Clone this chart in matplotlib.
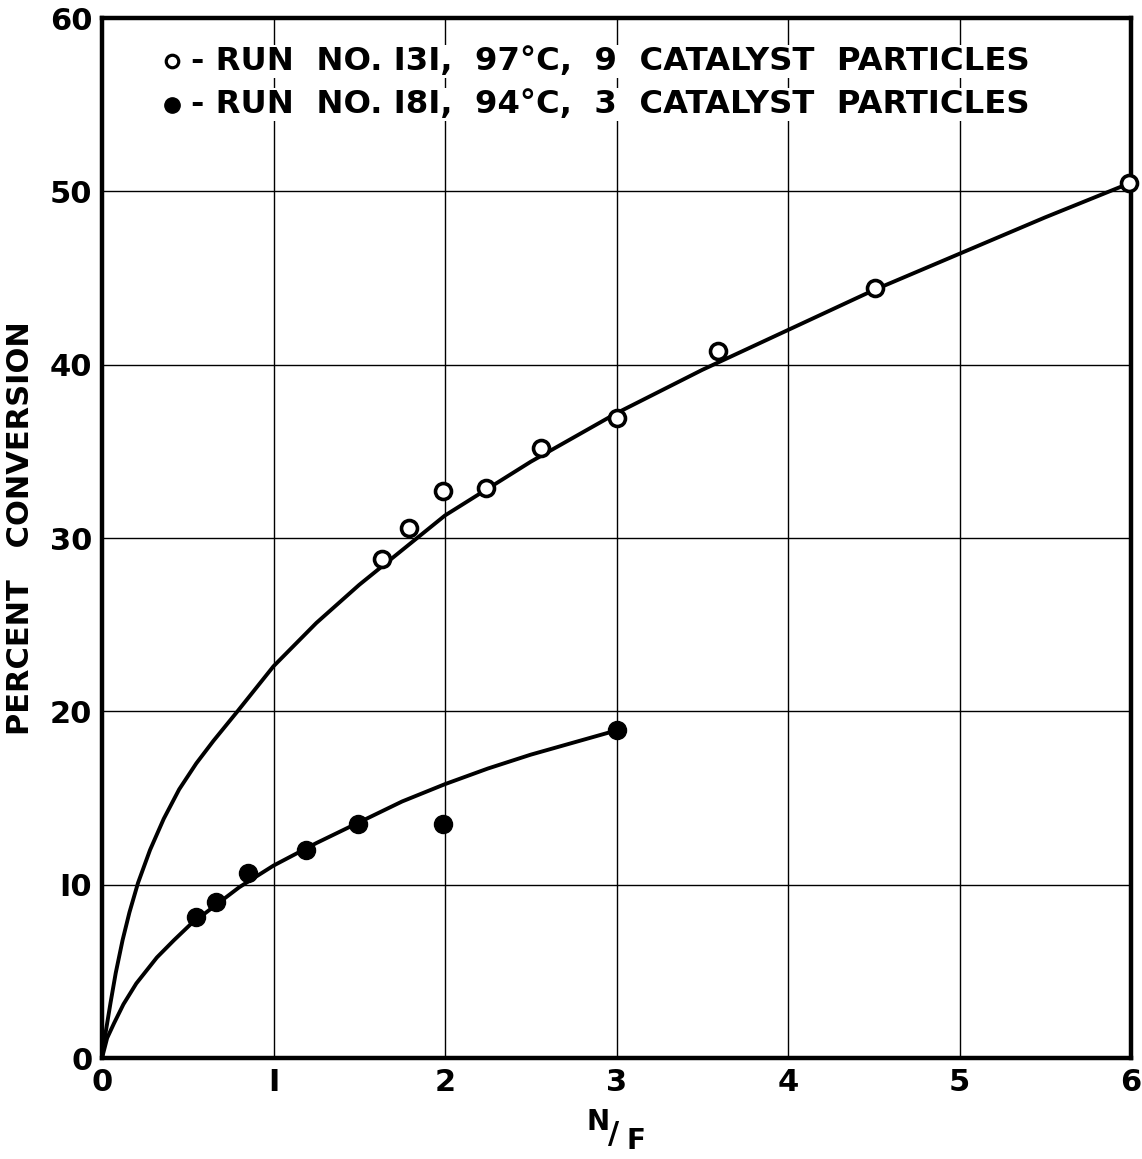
import matplotlib
matplotlib.use("Agg")
import matplotlib.pyplot as plt

# Data
run131_x = [1.63, 1.79, 1.99, 2.24, 2.56, 3.0, 3.59, 4.51, 5.99]
run131_y = [28.8, 30.6, 32.7, 32.9, 35.2, 36.9, 40.8, 44.4, 50.5]
run181_x = [0.55, 0.665, 0.85, 1.19, 1.49, 1.99, 3.0]
run181_y = [8.15, 9.0, 10.7, 12.0, 13.5, 13.5, 18.9]

# Smooth fitted curves as drawn
curve131_x = [0, 0.02, 0.05, 0.08, 0.12, 0.16, 0.21, 0.28, 0.36, 0.45, 0.55, 0.65, 0.79,
              1.0, 1.25, 1.5, 1.75, 2.0, 2.5, 3.0, 3.5, 4.0, 4.5, 5.0, 5.5, 6.0]
curve131_y = [0, 1.4, 3.2, 4.9, 6.8, 8.4, 10.1, 12.0, 13.8, 15.5, 17.0, 18.3, 20.0,
              22.6, 25.1, 27.3, 29.3, 31.3, 34.4, 37.2, 39.7, 42.0, 44.3, 46.4, 48.5, 50.5]
curve181_x = [0, 0.03, 0.07, 0.125, 0.2, 0.32, 0.42, 0.515, 0.65, 0.8, 1.0, 1.25,
              1.5, 1.75, 2.0, 2.25, 2.5, 2.75, 3.0]
curve181_y = [0, 1.15, 2.0, 3.1, 4.3, 5.8, 6.8, 7.7, 8.72, 9.85, 11.1, 12.4,
              13.6, 14.8, 15.8, 16.7, 17.5, 18.2, 18.9]

xticks = [0, 1, 2, 3, 4, 5, 6]
xticklabels = ["0", "I", "2", "3", "4", "5", "6"]
yticks = [0, 10, 20, 30, 40, 50, 60]
yticklabels = ["0", "I0", "20", "30", "40", "50", "60"]

legend_lines = ["- RUN  NO. I3I,  97°C,  9  CATALYST  PARTICLES",
                "- RUN  NO. I8I,  94°C,  3  CATALYST  PARTICLES"]

W, H = 1142, 1159
fig = plt.figure(figsize=(W / 100, H / 100), dpi=100)
ax = fig.add_axes([102 / W, 1 - 1058 / H, (1131 - 102) / W, (1058 - 18) / H])
ax.set_xlim(0, 6)
ax.set_ylim(0, 60)

ax.set_xticks(xticks)
ax.set_xticklabels(xticklabels)
ax.set_yticks(yticks)
ax.set_yticklabels(yticklabels)
ax.tick_params(length=0, labelsize=22, pad=7)
for lab in ax.get_xticklabels() + ax.get_yticklabels():
    lab.set_fontweight("bold")
    lab.set_family("DejaVu Sans")

ax.grid(True, color="black", linewidth=1.0)
ax.set_axisbelow(True)
for s in ax.spines.values():
    s.set_linewidth(3.2)

ax.plot(curve131_x, curve131_y, color="black", linewidth=2.8, solid_capstyle="round")
ax.plot(curve181_x, curve181_y, color="black", linewidth=2.8, solid_capstyle="round")

ax.plot(run131_x, run131_y, linestyle="none", marker="o", markersize=11.5,
        markerfacecolor="white", markeredgecolor="black", markeredgewidth=2.6,
        clip_on=False, zorder=5)
ax.plot(run181_x, run181_y, linestyle="none", marker="o", markersize=13,
        markerfacecolor="black", markeredgecolor="black", clip_on=False, zorder=5)

# Legend drawn as text with markers
leg_y = [57.5, 55.0]
ax.plot([0.41], [leg_y[0]], marker="o", markersize=9, markerfacecolor="white",
        markeredgecolor="black", markeredgewidth=2.3, linestyle="none", zorder=6)
ax.plot([0.41], [leg_y[1]], marker="o", markersize=11, markerfacecolor="black",
        markeredgecolor="black", linestyle="none", zorder=6)
for i, t in enumerate(legend_lines):
    ax.text(0.52, leg_y[i], t, fontsize=23.2, fontweight="bold",
            family="DejaVu Sans", va="center", ha="left",
            bbox=dict(facecolor="white", edgecolor="none", pad=1), zorder=6)

# x label "N/F" with raised N and lowered F
fig.text(598 / W, 1 - 1122 / H, "N", fontsize=20, fontweight="bold", ha="center", va="center")
fig.text(614 / W, 1 - 1135 / H, "/", fontsize=22, fontweight="bold", ha="center", va="center")
fig.text(636 / W, 1 - 1141 / H, "F", fontsize=20, fontweight="bold", ha="center", va="center")

# y label
fig.text(21 / W, 1 - 528 / H, "PERCENT   CONVERSION", fontsize=22, fontweight="bold",
         rotation=90, ha="center", va="center")

fig.savefig("out.png", dpi=100, facecolor="white")
